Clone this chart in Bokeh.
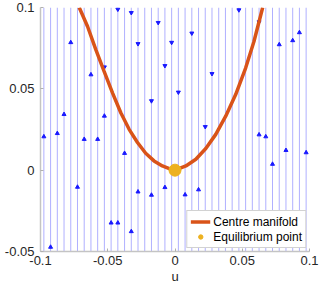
from bokeh.plotting import figure
from bokeh.models import Range1d, FixedTicker, Legend, LegendItem, Label
from bokeh.embed import file_html
from bokeh.resources import INLINE

# --- data -------------------------------------------------------------------
stream_u = [-0.0975, -0.0925, -0.0875, -0.0825, -0.0775, -0.0725, -0.0675, -0.0625,
            -0.0575, -0.0525, -0.0475, -0.0425, -0.0375, -0.0325, -0.0275, -0.0225,
            -0.0175, -0.0125, -0.0075, -0.0025, 0.0025, 0.0075, 0.0125, 0.0175,
            0.0225, 0.0275, 0.0325, 0.0375, 0.0425, 0.0475, 0.0525, 0.0575,
            0.0625, 0.0675, 0.0725, 0.0775, 0.0825, 0.0875, 0.0925, 0.0975]
stream_v_bottom = -0.05
stream_v_top = 0.1

up_u = [-0.0775, -0.0625, -0.0825, -0.0525, -0.0975, -0.0875, -0.0675, -0.0575,
        -0.0375, -0.0725, -0.0275, -0.0175, -0.0475, -0.0425, -0.0325, -0.0925,
        -0.0075, 0.0075, 0.0175, 0.0725, 0.0825, 0.0975, 0.0925, 0.0875, 0.0775,
        0.0625, 0.0675]
up_v = [0.0785, 0.0587, 0.0343, 0.0333, 0.0206, 0.0226, 0.0190, 0.0190,
        0.0104, -0.0104, -0.0133, -0.0153, -0.0324, -0.0324, -0.0377, -0.0473,
        -0.0106, -0.0151, -0.0120, 0.0037, 0.0122, 0.0108, 0.0846, 0.0797, 0.0772,
        0.0218, 0.0206]

down_u = [-0.0425, -0.0325, -0.0125, -0.0275, -0.0525, -0.0175, 0.0475, 0.0625,
          0.0125, -0.0025, -0.0075, 0.0275, 0.0025, 0.0225]
down_v = [0.0989, 0.0968, 0.0907, 0.0777, 0.0634, 0.0426, 0.0985, 0.0911,
          0.0842, 0.0785, 0.0642, 0.0593, 0.0479, 0.0267]

manifold_u = [-0.0712, -0.0650, -0.0588, -0.0527, -0.0464, -0.0403, -0.0341, -0.0279,
              -0.0218, -0.0156, -0.0094, -0.0033, 0.0, 0.0081, 0.0155, 0.0229,
              0.0303, 0.0377, 0.0451, 0.0525, 0.0587, 0.0652]
manifold_v = [0.1000, 0.0883, 0.0740, 0.0607, 0.0474, 0.0353, 0.0251, 0.0170,
              0.0104, 0.0057, 0.0026, 0.0006, 0.0, 0.0026, 0.0067, 0.0133,
              0.0220, 0.0332, 0.0465, 0.0628, 0.0791, 0.1000]

eq_u = [0.0]
eq_v = [0.0]

u_ticks = [-0.1, -0.05, 0, 0.05, 0.1]
u_tick_labels = ["-0.1", "-0.05", "0", "0.05", "0.1"]
v_ticks = [-0.05, 0, 0.05, 0.1]
v_tick_labels = ["-0.05", "0", "0.05", "0.1"]

# --- figure ---------------------------------------------------------------
FONT = "Liberation Sans"
p = figure(frame_width=269, frame_height=244,
           min_border_left=40, min_border_right=10, min_border_top=7, min_border_bottom=30,
           x_range=Range1d(-0.1, 0.1), y_range=Range1d(-0.05, 0.1),
           output_backend="svg", toolbar_location=None)
p.outline_line_color = None
p.grid.visible = False
p.background_fill_color = "white"
p.border_fill_color = "white"

for ax, ticks, labels in ((p.xaxis[0], u_ticks, u_tick_labels), (p.yaxis[0], v_ticks, v_tick_labels)):
    ax.ticker = FixedTicker(ticks=ticks)
    ax.major_label_overrides = {t: l for t, l in zip(ticks, labels)}
    ax.axis_line_color = "#c4c4c4"
    ax.axis_line_width = 1.5
    ax.major_tick_line_color = "#b0b0b0"
    ax.major_tick_in = 3
    ax.major_tick_out = 0
    ax.minor_tick_line_color = None
    ax.major_label_text_font = FONT
    ax.major_label_text_font_size = "13px"
    ax.major_label_text_color = "#262626"
p.xaxis.major_label_standoff = 4
p.yaxis.major_label_standoff = 6
p.xaxis.axis_label = "u"
p.xaxis.axis_label_standoff = 1
p.xaxis.axis_label_text_font = FONT
p.xaxis.axis_label_text_font_size = "13px"
p.xaxis.axis_label_text_font_style = "normal"
p.xaxis.axis_label_text_color = "#262626"

# streamlines
p.segment(x0=stream_u, y0=stream_v_bottom, x1=stream_u, y1=stream_v_top,
          line_color="#3a3aff", line_alpha=0.4, line_width=1)
p.scatter(up_u, up_v, marker="triangle", size=4, color="#1a1aff")
p.scatter(down_u, down_v, marker="inverted_triangle", size=4, color="#1a1aff")

# centre manifold
curve = p.line(manifold_u, manifold_v, line_color="#D95319", line_width=3.5)
# equilibrium point (small one for legend, hidden under the big dot)
eq_small = p.scatter(eq_u, eq_v, size=4, color="#EDB120")
p.scatter(eq_u, eq_v, size=12, color="#EDB120")

legend = Legend(items=[LegendItem(label="Centre manifold", renderers=[curve]),
                       LegendItem(label="Equilibrium point", renderers=[eq_small])],
                location="bottom_right", margin=3, padding=3, spacing=0,
                glyph_width=20, glyph_height=11, label_height=15, label_standoff=3,
                label_text_font=FONT, label_text_font_size="12px", label_text_color="#000000",
                border_line_color="#a6a6a6", border_line_width=1,
                background_fill_color="white", background_fill_alpha=1)
p.add_layout(legend)

p.add_layout(Label(x=-0.1, y=0.0257, x_offset=-33, text="v", text_align="center",
                   text_baseline="middle", text_font=FONT, text_font_size="13px",
                   text_color="#262626"))

open("out.html", "w").write(file_html(p, INLINE))
